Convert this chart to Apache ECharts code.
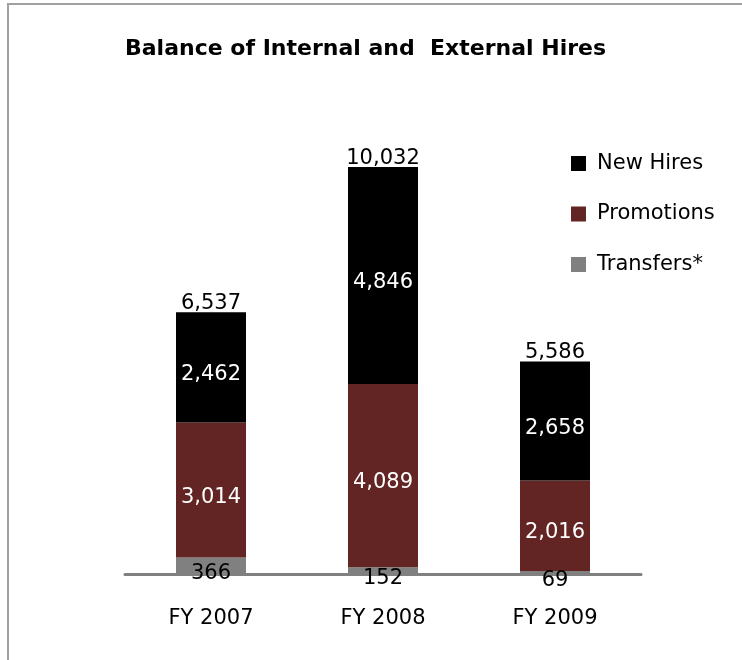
<!DOCTYPE html>
<html>
<head>
<meta charset="utf-8">
<script src="https://cdn.jsdelivr.net/npm/echarts@6/dist/echarts.min.js"></script>
<style>
  html, body { margin: 0; padding: 0; background: #fff; }
  #chart { width: 742px; height: 660px; }
</style>
</head>
<body>
<div id="chart"></div>
<script>
const categories = ['FY 2007', 'FY 2008', 'FY 2009']
const transfers = [366, 152, 69]
const promotions = [3014, 4089, 2016]
const newHires = [2462, 4846, 2658]
// totals printed above the bars (as shown in the source)
const totals = [6537, 10032, 5586]

const fmt = (v) => Number(v).toLocaleString('en-US')
const font = '"DejaVu Sans", sans-serif'

const chart = echarts.init(document.getElementById('chart'))

const option = {
  animation: false,
  textStyle: { fontFamily: font },
  graphic: [
    {
      type: 'rect',
      shape: { x: 8, y: 4, width: 800, height: 700 },
      style: { fill: 'none', stroke: '#a0a0a0', lineWidth: 2 },
      silent: true
    }
  ],
  title: {
    text: 'Balance of Internal and  External Hires',
    left: 120,
    top: 33,
    textStyle: { fontFamily: font, fontSize: 22, fontWeight: 'bold', color: '#000' }
  },
  legend: {
    data: ['New Hires', 'Promotions', 'Transfers*'],
    orient: 'vertical',
    left: 566,
    top: 148,
    itemWidth: 15,
    itemHeight: 15,
    itemGap: 29.5,
    icon: 'rect',
    textStyle: { fontFamily: font, fontSize: 21, color: '#000', padding: [0, 0, 0, 6] }
  },
  grid: { left: 125, right: 101, top: 126, bottom: 86, containLabel: false },
  xAxis: {
    type: 'category',
    data: categories,
    axisLine: { lineStyle: { color: '#808080', width: 3 } },
    axisTick: { show: false },
    axisLabel: { margin: 34, fontSize: 21, color: '#000', fontFamily: font }
  },
  yAxis: {
    type: 'value',
    min: 0,
    max: 10000,
    show: false,
    splitLine: { show: false }
  },
  series: [
    {
      name: 'Transfers*',
      type: 'bar',
      stack: 'hires',
      barWidth: 70,
      data: transfers,
      itemStyle: { color: '#808080' },
      label: {
        show: true,
        position: 'inside',
        offset: [0, 8],
        color: '#000',
        fontSize: 21,
        fontFamily: font,
        formatter: (p) => fmt(p.value)
      }
    },
    {
      name: 'Promotions',
      type: 'bar',
      stack: 'hires',
      data: promotions,
      itemStyle: { color: '#632523' },
      label: {
        show: true,
        position: 'inside',
        offset: [0, 7],
        color: '#fff',
        fontSize: 21,
        fontFamily: font,
        formatter: (p) => fmt(p.value)
      }
    },
    {
      name: 'New Hires',
      type: 'bar',
      stack: 'hires',
      data: newHires,
      itemStyle: { color: '#000' },
      label: {
        show: true,
        position: 'inside',
        offset: [0, 7],
        color: '#fff',
        fontSize: 21,
        fontFamily: font,
        formatter: (p) => fmt(p.value)
      }
    },
    {
      name: 'Total',
      type: 'bar',
      stack: 'hires',
      data: totals.map(() => 0),
      itemStyle: { color: 'transparent' },
      label: {
        show: true,
        position: 'top',
        distance: -2,
        color: '#000',
        fontSize: 21,
        fontFamily: font,
        formatter: (p) => fmt(totals[p.dataIndex])
      }
    }
  ]
}

chart.setOption(option)
</script>
</body>
</html>
